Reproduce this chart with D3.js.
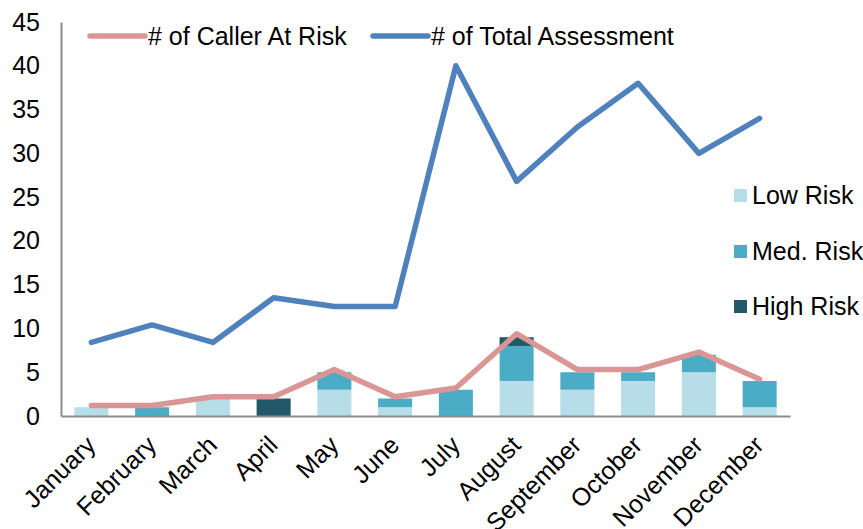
<!DOCTYPE html>
<head>
  <title>Callers at risk</title>
</head>
<style>
html, body {
  margin: 0;
  padding: 0;
  background: #ffffff;
}
svg text {
  font-family: "Liberation Sans", Arial, sans-serif;
  fill: #000000;
}
</style>
<svg id="chart" width="863" height="529"></svg>
<script src="https://d3js.org/d3.v7.min.js"></script>
<script>
// months on the x axis
var months = ["January", "February", "March", "April", "May", "June",
              "July", "August", "September", "October", "November", "December"];

// stacked bars
var lowRisk  = [1, 0, 2, 0, 3, 1, 0, 4, 3, 4, 5, 1];
var medRisk  = [0, 1, 0, 0, 2, 1, 3, 4, 2, 1, 2, 3];
var highRisk = [0, 0, 0, 2, 0, 0, 0, 1, 0, 0, 0, 0];

// lines
var callerAtRisk    = [1.2, 1.2, 2.2, 2.2, 5.3, 2.2, 3.2, 9.4, 5.3, 5.3, 7.3, 4.2];
var totalAssessment = [8.4, 10.4, 8.4, 13.5, 12.5, 12.5, 40, 26.8, 33, 38, 30, 34];

var yTicks = [0, 5, 10, 15, 20, 25, 30, 35, 40, 45];

var colors = {
  low: "#b7dee8",
  med: "#4bacc6",
  high: "#215968",
  caller: "#d99694",
  total: "#4f81bd",
  axis: "#8c8c8c"
};

var fontSize = 25;

var svg = d3.select("#chart");

var x = d3.scaleBand()
          .domain(months)
          .range([61, 790])
          .paddingInner(0.44)
          .paddingOuter(0.22);

var y = d3.scaleLinear()
          .domain([0, 45])
          .range([416, 22]);

// stacked bars
var rows = months.map(function (m, i) {
  return { month: m, low: lowRisk[i], med: medRisk[i], high: highRisk[i] };
});
var stack = d3.stack().keys(["low", "med", "high"]);

svg.append("g")
  .selectAll("g")
  .data(stack(rows))
  .enter().append("g")
    .attr("fill", function (d) { return colors[d.key]; })
  .selectAll("rect")
  .data(function (d) { return d; })
  .enter().append("rect")
    .attr("x", function (d) { return x(d.data.month); })
    .attr("width", x.bandwidth())
    .attr("y", function (d) { return y(d[1]); })
    .attr("height", function (d) { return y(d[0]) - y(d[1]); });

// axes
var yAxis = svg.append("g")
  .attr("transform", "translate(61,0)")
  .call(d3.axisLeft(y).tickValues(yTicks).tickSize(0).tickPadding(21));
yAxis.select(".domain").attr("stroke", colors.axis).attr("stroke-width", 2);
yAxis.selectAll("text")
  .attr("font-size", fontSize)
  .attr("font-family", "Liberation Sans, Arial, sans-serif");

var xAxis = svg.append("g")
  .attr("transform", "translate(0,416)")
  .call(d3.axisBottom(x).tickSize(0).tickFormat(""));
xAxis.select(".domain").attr("stroke", colors.axis).attr("stroke-width", 2);

svg.append("g")
  .selectAll("text")
  .data(months)
  .enter().append("text")
    .attr("transform", function (d) {
      return "translate(" + (x(d) + x.bandwidth() / 2 - 5) + ",436) rotate(-45)";
    })
    .attr("text-anchor", "end")
    .attr("dy", "0.6em")
    .attr("font-size", fontSize)
    .text(function (d) { return d; });

// lines
var line = d3.line()
  .x(function (d, i) { return x(months[i]) + x.bandwidth() / 2; })
  .y(function (d) { return y(d); });

svg.append("path")
  .datum(callerAtRisk)
  .attr("fill", "none")
  .attr("stroke", colors.caller)
  .attr("stroke-width", 5.5)
  .attr("stroke-linejoin", "round")
  .attr("stroke-linecap", "round")
  .attr("d", line);

svg.append("path")
  .datum(totalAssessment)
  .attr("fill", "none")
  .attr("stroke", colors.total)
  .attr("stroke-width", 5.5)
  .attr("stroke-linejoin", "round")
  .attr("stroke-linecap", "round")
  .attr("d", line);

// top legend (lines)
var lineLegend = [
  { name: "# of Caller At Risk", color: colors.caller, x: 90 },
  { name: "# of Total Assessment", color: colors.total, x: 373 }
];
var ll = svg.append("g")
  .selectAll("g")
  .data(lineLegend)
  .enter().append("g")
    .attr("transform", function (d) { return "translate(" + d.x + ",36)"; });
ll.append("line")
  .attr("x1", 0).attr("x2", 55)
  .attr("stroke", function (d) { return d.color; })
  .attr("stroke-width", 5.5)
  .attr("stroke-linecap", "round");
ll.append("text")
  .attr("x", 58)
  .attr("dy", "0.35em")
  .attr("font-size", fontSize)
  .text(function (d) { return d.name; });

// right legend (bars)
var barLegend = [
  { name: "Low Risk", color: colors.low, y: 195 },
  { name: "Med. Risk", color: colors.med, y: 251 },
  { name: "High Risk", color: colors.high, y: 306 }
];
var bl = svg.append("g")
  .selectAll("g")
  .data(barLegend)
  .enter().append("g")
    .attr("transform", function (d) { return "translate(734," + d.y + ")"; });
bl.append("rect")
  .attr("x", 0).attr("y", -6)
  .attr("width", 13).attr("height", 13)
  .attr("fill", function (d) { return d.color; });
bl.append("text")
  .attr("x", 18)
  .attr("dy", "0.35em")
  .attr("font-size", fontSize)
  .text(function (d) { return d.name; });
</script>
